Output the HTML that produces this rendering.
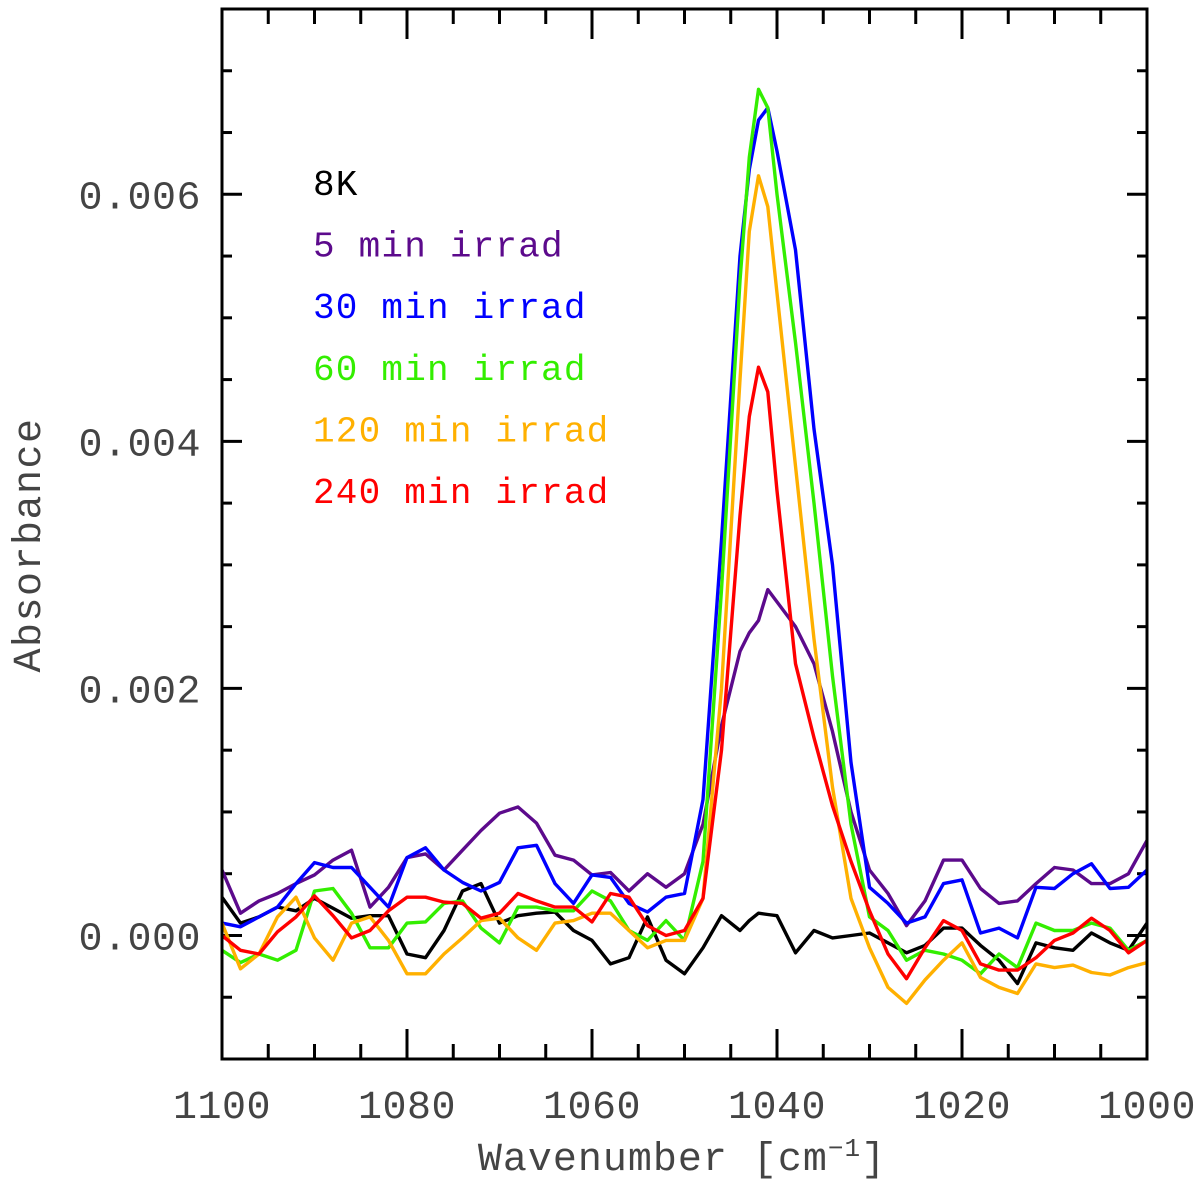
<!DOCTYPE html>
<html><head><meta charset="utf-8"><style>
html,body{margin:0;padding:0;background:#fff;}
svg{display:block;}
text{font-family:"Liberation Mono","DejaVu Sans Mono",monospace;}
</style></head><body>
<svg id="chart" width="1200" height="1185" viewBox="0 0 1200 1185" xmlns="http://www.w3.org/2000/svg">
<g id="ticks"></g>
<g id="series"></g>
<rect x="222" y="9" width="925" height="1050" fill="none" stroke="#000" stroke-width="3"/>
<g id="labels" font-size="40" fill="#444"></g>
<g id="legend" font-size="36"></g>
<text x="682" y="1170" text-anchor="middle" font-size="40" fill="#444" letter-spacing="1">Wavenumber [cm<tspan dy="-14" font-size="26">−1</tspan><tspan dy="14">]</tspan></text>
<text x="0" y="0" transform="translate(40,545) rotate(-90)" text-anchor="middle" font-size="40" fill="#444" letter-spacing="1.5">Absorbance</text>
</svg>
<script>
const wavenumbers=[1100,1098,1096,1094,1092,1090,1088,1086,1084,1082,1080,1078,1076,1074,1072,1070,1068,1066,1064,1062,1060,1058,1056,1054,1052,1050,1048,1046,1044,1043,1042,1041,1040,1038,1036,1034,1032,1030,1028,1026,1024,1022,1020,1018,1016,1014,1012,1010,1008,1006,1004,1002,1000];
const s8K=[3.1,1.0,1.5,2.3,2.0,3.0,2.2,1.4,1.6,1.6,-1.5,-1.8,0.4,3.6,4.2,1.0,1.6,1.8,1.9,0.4,-0.4,-2.3,-1.8,1.5,-2.0,-3.1,-1.0,1.6,0.4,1.2,1.8,1.7,1.6,-1.4,0.4,-0.2,0,0.2,-0.6,-1.4,-0.8,0.6,0.6,-0.8,-2.0,-3.9,-0.6,-1.0,-1.2,0.2,-0.6,-1.2,1.0];
const s5min=[5.3,1.8,2.8,3.4,4.2,4.9,6.1,6.9,2.3,3.9,6.3,6.6,5.3,6.9,8.5,9.9,10.4,9.1,6.5,6.1,4.9,5.1,3.6,5.0,3.9,5.0,9,17,23,24.5,25.5,28,27,25,22,16.5,10,5.3,3.4,0.8,2.8,6.1,6.1,3.8,2.6,2.8,4.2,5.5,5.3,4.2,4.2,5.0,7.7];
const s30min=[1.0,0.7,1.5,2.3,4.2,5.9,5.5,5.5,3.9,2.3,6.3,7.1,5.3,4.3,3.6,4.3,7.1,7.3,4.2,2.6,4.9,4.7,2.6,1.9,3.1,3.4,11,32,55,62,66,67,63.5,55.5,41,30,14,3.9,2.6,1.0,1.5,4.2,4.5,0.2,0.6,-0.2,3.9,3.8,5.0,5.8,3.8,3.9,5.3];
const s60min=[-1.2,-2.2,-1.5,-2.0,-1.2,3.6,3.8,1.8,-1.0,-1.0,1.0,1.1,2.6,2.8,0.6,-0.6,2.3,2.3,2.0,2.0,3.6,2.8,0.4,-0.4,1.2,-0.4,6,28,53,63,68.5,67,60,48,35,21,9,1.5,0.4,-2.0,-1.2,-1.5,-2.0,-3.1,-1.5,-2.6,1.0,0.4,0.4,1.0,0.6,-1.2,-0.4];
const s120min=[1.0,-2.7,-1.5,1.5,3.1,-0.2,-2.0,1.0,1.5,-0.4,-3.1,-3.1,-1.5,-0.2,1.2,1.4,-0.2,-1.2,1.0,1.2,1.8,1.8,0.4,-1.0,-0.4,-0.4,3,20,45,57,61.5,59,52,38,24,12,3,-1.0,-4.2,-5.5,-3.6,-2.0,-0.6,-3.4,-4.2,-4.7,-2.3,-2.6,-2.4,-3.0,-3.2,-2.6,-2.2];
const s240min=[0,-1.2,-1.5,0.3,1.5,3.2,1.6,-0.2,0.4,2.0,3.1,3.1,2.7,2.6,1.4,1.8,3.4,2.8,2.3,2.3,1.1,3.4,3.1,0.8,0,0.4,3,15,34,42,46,44,36,22,16,10.5,6,2.0,-1.5,-3.5,-1.0,1.2,0.4,-2.3,-2.8,-2.8,-1.8,-0.4,0.2,1.4,0.4,-1.4,-0.4];
const seriesNames=["8K","5 min irrad","30 min irrad","60 min irrad","120 min irrad","240 min irrad"];
const xTickLabels=["1100","1080","1060","1040","1020","1000"];
const yTickLabels=["0.000","0.002","0.004","0.006"];

const NS="http://www.w3.org/2000/svg";
const X0=222,X1=1147,Y0=9,Y1=1059;
const xMin=1100,xMax=1000,yMin=-0.001,yMax=0.0075;
function xs(v){return X0+(v-xMin)/(xMax-xMin)*(X1-X0);}
function ys(v){return Y1-(v-yMin)/(yMax-yMin)*(Y1-Y0);}
function mk(tag,attrs,parent){const e=document.createElementNS(NS,tag);for(const k in attrs)e.setAttribute(k,attrs[k]);parent.appendChild(e);return e;}

const ticks=document.getElementById('ticks');
for(let v=1100;v>=1000;v-=5){
  const major=(v%20===0);const L=major?30:15;const x=xs(v);
  const t1=mk('line',{x1:x,x2:x,y1:Y1,y2:Y1-L,stroke:'#000','stroke-width':3},ticks);
  
  
  const t2=mk('line',{x1:x,x2:x,y1:Y0,y2:Y0+L,stroke:'#000','stroke-width':3},ticks);
  
  
}
for(let i=-2;i<=15;i++){
  const v=i*0.0005;if(v<yMin||v>yMax)continue;
  const major=(i%4===0);const L=major?20:10;const y=ys(v);
  const t1=mk('line',{x1:X0,x2:X0+L,y1:y,y2:y,stroke:'#000','stroke-width':3},ticks);
  
  
  const t2=mk('line',{x1:X1,x2:X1-L,y1:y,y2:y,stroke:'#000','stroke-width':3},ticks);
  
  
}
const labels=document.getElementById('labels');
xTickLabels.forEach(s=>{
  const t=mk('text',{x:xs(+s),y:1118,'text-anchor':'middle','letter-spacing':'0.5'},labels);
  t.textContent=s;
  
  
});
yTickLabels.forEach(s=>{
  const t=mk('text',{x:201,y:ys(+s)+14,'text-anchor':'end','letter-spacing':'0.5'},labels);
  t.textContent=s;
  
  
});
const colors=["#000000","#5c0a8c","#0000ff","#33ee00","#ffb000","#ff0000"];
const data=[s8K,s5min,s30min,s60min,s120min,s240min];
const sg=document.getElementById('series');
data.forEach((arr,k)=>{
  const d=arr.map((v,i)=>(i?'L':'M')+xs(wavenumbers[i]).toFixed(1)+','+ys(v*1e-4).toFixed(1)).join(' ');
  const p=mk('path',{d:d,fill:'none',stroke:colors[k],'stroke-width':3.4,'stroke-linejoin':'round'},sg);
  
  
});
const lg=document.getElementById('legend');
seriesNames.forEach((n,k)=>{
  const t=mk('text',{x:313,y:195+k*61.6,fill:colors[k],'letter-spacing':'1.2'},lg);
  t.textContent=n;
  
  
});
</script>
</body></html>
